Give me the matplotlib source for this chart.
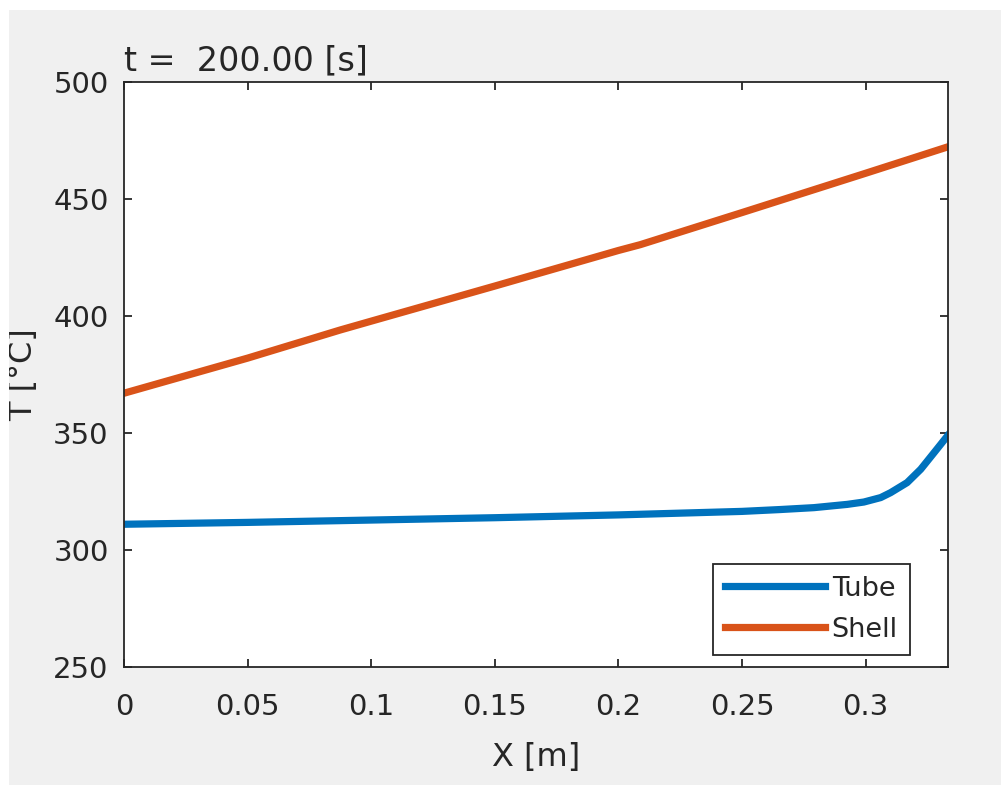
import matplotlib
matplotlib.use("Agg")
import matplotlib.pyplot as plt
from matplotlib.patches import Rectangle

# values
x_tube = [0, 0.05, 0.1, 0.15, 0.2, 0.25, 0.2656, 0.2791, 0.2926, 0.2993, 0.3061,
          0.3101, 0.3168, 0.3223, 0.3277, 0.3333]
t_tube = [311.0, 311.8, 312.8, 313.8, 315.0, 316.5, 317.3, 318.1, 319.5, 320.5, 322.4,
          324.5, 328.8, 334.5, 341.6, 349.0]

x_shell = [0, 0.05, 0.0874, 0.1, 0.15, 0.2, 0.2089, 0.25, 0.3, 0.3333]
t_shell = [367.0, 382.0, 394.0, 397.8, 412.8, 428.0, 430.5, 444.2, 461.0, 472.3]

xticks = [0, 0.05, 0.1, 0.15, 0.2, 0.25, 0.3]
xticklabels = ["0", "0.05", "0.1", "0.15", "0.2", "0.25", "0.3"]
yticks = [250, 300, 350, 400, 450, 500]

plt.rcParams['font.family'] = ['DejaVu Sans']

W, H = 1001, 785
fig = plt.figure(figsize=(W / 100, H / 100), dpi=100, facecolor="white")
# gray MATLAB figure background (screenshot has a thin white strip top/left)
fig.patches.append(Rectangle((9 / W, 0), 1 - 9 / W, 1 - 10 / H,
                             transform=fig.transFigure, facecolor="#f0f0f0",
                             edgecolor="none", zorder=-10))

ax = fig.add_axes([124 / W, 118 / H, 824 / W, 585 / H])
ax.set_facecolor("white")

ax.plot(x_tube, t_tube, color="#0072BD", lw=5.2, label="Tube")
ax.plot(x_shell, t_shell, color="#D95319", lw=5.2, label="Shell")

ax.set_xlim(0, 1 / 3)
ax.set_ylim(250, 500)
ax.set_xticks(xticks)
ax.set_xticklabels(xticklabels)
ax.set_yticks(yticks)

dark = "#262626"
for s in ax.spines.values():
    s.set_color(dark)
    s.set_linewidth(1.3)
ax.tick_params(direction="in", length=6, width=1.3, color=dark, labelcolor=dark,
               labelsize=21, top=True, right=True)
ax.tick_params(axis="x", pad=19)
ax.tick_params(axis="y", pad=11)

ax.set_xlabel("X [m]", fontsize=23, color=dark, labelpad=15)
ax.set_ylabel("T [°C]", fontsize=23, color=dark, labelpad=10)
ax.set_title("t =  200.00 [s]", loc="left", fontsize=24, color=dark, pad=8)

leg = ax.legend(loc="lower right", bbox_to_anchor=((910 - 124) / 824, 12 / 585),
                borderaxespad=0, fontsize=19.5, handlelength=3.7, handletextpad=0.25,
                fancybox=False, framealpha=1, edgecolor=dark, labelspacing=0.55,
                borderpad=0.45)
leg.get_frame().set_linewidth(1.3)
for t in leg.get_texts():
    t.set_color(dark)

# white strip left/top of the screenshot, drawn over the clipped y label
fig.patches.append(Rectangle((0, 0), 9 / W, 1, transform=fig.transFigure,
                             facecolor="white", edgecolor="none", zorder=10))
fig.patches.append(Rectangle((0, 1 - 10 / H), 1, 10 / H, transform=fig.transFigure,
                             facecolor="white", edgecolor="none", zorder=10))

fig.savefig("out.png", dpi=100, facecolor=fig.get_facecolor())
